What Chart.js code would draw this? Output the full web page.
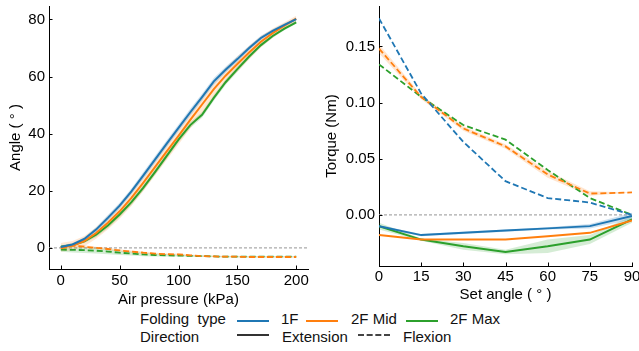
<!DOCTYPE html>
<html>
<head>
<meta charset="utf-8">
<script src="https://cdn.jsdelivr.net/npm/chart.js@4"></script>
<style>
  body { margin: 0; background: #fff; width: 639px; height: 351px; overflow: hidden; position: relative; font-family: "Liberation Sans", Arial, sans-serif; }
  canvas { position: absolute; top: 0; }
  .lg { position: absolute; font-size: 15px; line-height: 17px; color: #111; white-space: pre; }
  .ln { position: absolute; width: 32px; height: 0; border-top: 2px solid; }
</style>
</head>
<body>
<canvas id="left" width="320" height="309" style="left:0"></canvas>
<canvas id="right" width="319" height="304" style="left:320px"></canvas>

<div class="lg" style="left:140px;top:310px">Folding  type</div>
<div class="ln" style="left:237px;top:320px;border-color:#1f77b4"></div>
<div class="lg" style="left:281px;top:310px">1F</div>
<div class="ln" style="left:306px;top:320px;border-color:#ff7f0e"></div>
<div class="lg" style="left:351px;top:310px">2F Mid</div>
<div class="ln" style="left:406px;top:320px;border-color:#2ca02c"></div>
<div class="lg" style="left:450px;top:310px">2F Max</div>
<div class="lg" style="left:140px;top:328px">Direction</div>
<div class="ln" style="left:237px;top:334px;border-color:#333"></div>
<div class="lg" style="left:282px;top:328px">Extension</div>
<div class="ln" style="left:358px;top:334px;border-color:#444;border-top-style:dashed"></div>
<div class="lg" style="left:403px;top:328px">Flexion</div>

<script>
// Left panel: angle vs air pressure
var pressure = [0, 10, 20, 30, 40, 50, 60, 70, 80, 90, 100, 110, 120, 130, 140, 150, 160, 170, 180, 190, 200];
var ext1F    = [0.3, 1.2, 3.1, 6.4, 10.5, 14.8, 19.8, 25.3, 30.9, 36.5, 42.0, 47.5, 52.8, 58.3, 62.4, 66.1, 70.0, 73.5, 76.0, 78.1, 80.1];
var ext2FMid = [0.2, 0.8, 2.4, 5.2, 8.8, 12.8, 17.5, 22.8, 28.3, 33.8, 39.2, 44.8, 50.2, 55.6, 60.3, 64.4, 68.4, 72.2, 75.2, 77.8, 80.3];
var ext2FMax = [0.4, 1.0, 2.3, 4.6, 7.8, 11.7, 16.0, 21.0, 26.5, 32.2, 37.9, 43.0, 46.6, 52.5, 58.0, 62.6, 67.0, 71.0, 74.2, 76.8, 79.0];
var flx2FMid = [-0.2, 0.8, 0.4, 0.0, -0.4, -0.9, -1.3, -1.7, -2.0, -2.2, -2.3, -2.6, -2.9, -3.0, -3.1, -3.1, -3.2, -3.2, -3.2, -3.2, -3.2];
var flx2FMax = [-0.6, -0.7, -0.8, -1.0, -1.3, -1.7, -2.0, -2.3, -2.5, -2.6, -2.7, -2.8, -2.9, -3.0, -3.1, -3.1, -3.1, -3.1, -3.1, -3.1, -3.1];
var sdExt1F    = [0.5, 0.5, 0.6, 0.8, 1.0, 1.0, 1.0, 1.2, 1.2, 1.2, 1.2, 1.2, 1.2, 1.2, 1.0, 1.0, 0.8, 0.8, 0.6, 0.6, 0.6];
var sdExt2FMid = [1.5, 1.6, 1.8, 2.0, 2.4, 2.6, 2.8, 3.0, 3.0, 3.0, 3.0, 3.0, 3.0, 3.0, 2.8, 2.6, 2.4, 2.0, 1.6, 1.2, 1.0];
var sdExt2FMax = [0.4, 0.5, 0.6, 0.8, 0.9, 1.0, 1.0, 1.0, 1.0, 1.0, 1.0, 1.0, 1.0, 1.0, 1.0, 1.0, 0.8, 0.7, 0.6, 0.6, 0.5];
var sdFlx2FMid = [0.5, 0.5, 0.5, 0.4, 0.4, 0.4, 0.4, 0.4, 0.3, 0.3, 0.3, 0.3, 0.3, 0.3, 0.3, 0.3, 0.3, 0.3, 0.3, 0.3, 0.3];
var sdFlx2FMax = [0.8, 0.9, 1.0, 1.0, 0.9, 0.8, 0.7, 0.6, 0.5, 0.4, 0.3, 0.3, 0.3, 0.2, 0.2, 0.2, 0.2, 0.2, 0.2, 0.2, 0.2];
var pressureTicks = [0, 50, 100, 150, 200];
var angleTicks = [0, 20, 40, 60, 80];

// Right panel: torque vs set angle
var setAngle = [0, 15, 30, 45, 60, 75, 90];
var tqFlx1F    = [0.175, 0.108, 0.065, 0.030, 0.015, 0.011, 0.000];
var tqFlx2FMid = [0.148, 0.105, 0.077, 0.061, 0.036, 0.019, 0.020];
var tqFlx2FMax = [0.134, 0.105, 0.080, 0.067, 0.040, 0.015, 0.000];
var tqExt1F    = [-0.010, -0.018, -0.016, -0.014, -0.012, -0.010, -0.001];
var tqExt2FMid = [-0.018, -0.022, -0.022, -0.022, -0.019, -0.016, -0.005];
var tqExt2FMax = [-0.010, -0.022, -0.028, -0.033, -0.028, -0.022, -0.004];
var sdTqFlx2FMid = [0.004, 0.002, 0.002, 0.002, 0.003, 0.002, 0.000];
var sdTqExt1F    = [0.001, 0.001, 0.001, 0.001, 0.001, 0.002, 0.003];
var sdTqExt2FMax = [0.003, 0.001, 0.003, 0.002, 0.006, 0.004, 0.003];
var angleSetTicks = [0, 15, 30, 45, 60, 75, 90];
var torqueTicks = [0, 0.05, 0.10, 0.15];

var BLUE = '#1f77b4', ORANGE = '#ff7f0e', GREEN = '#2ca02c';
var FONT = { family: '"Liberation Sans", Arial, sans-serif', size: 15 };

function pts(xs, ys) {
    return xs.map(function (x, i) { return { x: x, y: ys[i] }; });
}

function line(xs, ys, color, dashed) {
    return {
        data: pts(xs, ys), borderColor: color, borderWidth: dashed ? 1.8 : 2,
        borderDash: dashed ? [6, 3] : [], pointRadius: 0, fill: false, order: 0
    };
}

// pair of datasets: upper filled down to lower
function band(xs, ys, sd, rgba) {
    var up = ys.map(function (v, i) { return v + sd[i]; });
    var lo = ys.map(function (v, i) { return v - sd[i]; });
    return [
        { data: pts(xs, up), borderWidth: 0, pointRadius: 0, fill: '+1', backgroundColor: rgba, order: 1 },
        { data: pts(xs, lo), borderWidth: 0, pointRadius: 0, fill: false, order: 1 }
    ];
}

function zeroLine(x0, x1) {
    return { data: [{ x: x0, y: 0 }, { x: x1, y: 0 }], borderColor: '#aaa', borderWidth: 1.2,
        borderDash: [3, 2], pointRadius: 0, fill: false, order: 2 };
}

// matplotlib style ticks pointing into the plot
var inwardTicks = {
    id: 'inwardTicks',
    afterDraw: function (chart) {
        var ctx = chart.ctx, a = chart.chartArea;
        ctx.save();
        ctx.strokeStyle = '#000';
        ctx.lineWidth = 1;
        ctx.beginPath();
        chart.scales.x.ticks.forEach(function (t) {
            var px = Math.round(chart.scales.x.getPixelForValue(t.value)) + 0.5;
            ctx.moveTo(px, a.bottom); ctx.lineTo(px, a.bottom - 3.5);
        });
        chart.scales.y.ticks.forEach(function (t) {
            var py = Math.round(chart.scales.y.getPixelForValue(t.value)) + 0.5;
            ctx.moveTo(a.left, py); ctx.lineTo(a.left + 3.5, py);
        });
        ctx.stroke();
        ctx.restore();
    }
};

function axes(o) {
    return {
        x: {
            type: 'linear', min: o.xmin, max: o.xmax,
            afterBuildTicks: function (s) { s.ticks = o.xticks.map(function (v) { return { value: v }; }); },
            afterFit: function (s) { s.height = o.xh; s.paddingLeft = 0; s.paddingRight = 0; },
            grid: { display: false, drawTicks: false },
            border: { display: true, color: '#000', width: 1 },
            ticks: { color: '#000', font: FONT, padding: o.xpad, maxRotation: 0, autoSkip: false },
            title: { display: true, text: o.xtitle, color: '#000', font: FONT, padding: 0 }
        },
        y: {
            type: 'linear', min: o.ymin, max: o.ymax,
            afterBuildTicks: function (s) { s.ticks = o.yticks.map(function (v) { return { value: v }; }); },
            afterFit: function (s) { s.width = o.yw; s.paddingTop = 0; s.paddingBottom = 0; },
            grid: { display: false, drawTicks: false },
            border: { display: true, color: '#000', width: 1 },
            ticks: { color: '#000', font: FONT, padding: 4, autoSkip: false, callback: o.yfmt },
            title: { display: true, text: o.ytitle, color: '#000', font: FONT, padding: { top: o.ytpad, bottom: 0 } }
        }
    };
}

var common = {
    responsive: false, animation: false,
    plugins: { legend: { display: false }, tooltip: { enabled: false } }
};

var leftSets = [
    line(pressure, ext1F, BLUE, false),
    line(pressure, ext2FMid, ORANGE, false),
    line(pressure, ext2FMax, GREEN, false),
    line(pressure, flx2FMid, ORANGE, true),
    line(pressure, flx2FMax, GREEN, true)
].concat(
    band(pressure, ext1F, sdExt1F, 'rgba(31,119,180,0.22)'),
    band(pressure, ext2FMid, sdExt2FMid, 'rgba(255,127,14,0.18)'),
    band(pressure, ext2FMax, sdExt2FMax, 'rgba(44,160,44,0.2)'),
    band(pressure, flx2FMid, sdFlx2FMid, 'rgba(255,127,14,0.18)'),
    band(pressure, flx2FMax, sdFlx2FMax, 'rgba(44,160,44,0.2)'),
    [zeroLine(-10, 210)]
);

new Chart(document.getElementById('left').getContext('2d'), {
    type: 'line',
    data: { datasets: leftSets },
    options: Object.assign({}, common, {
        layout: { padding: { top: 6, right: 12, left: 0, bottom: 0 } },
        scales: axes({
            xmin: -10, xmax: 210, xticks: pressureTicks, xh: 40, xpad: 3, xtitle: 'Air pressure (kPa)',
            ymin: -7.4, ymax: 84.7, yticks: angleTicks, yw: 49, ytpad: 7, ytitle: 'Angle ( ° )',
            yfmt: function (v) { return String(v); }
        })
    }),
    plugins: [inwardTicks]
});

var rightSets = [
    line(setAngle, tqExt1F, BLUE, false),
    line(setAngle, tqExt2FMid, ORANGE, false),
    line(setAngle, tqExt2FMax, GREEN, false),
    line(setAngle, tqFlx1F, BLUE, true),
    line(setAngle, tqFlx2FMid, ORANGE, true),
    line(setAngle, tqFlx2FMax, GREEN, true)
].concat(
    band(setAngle, tqExt1F, sdTqExt1F, 'rgba(31,119,180,0.22)'),
    band(setAngle, tqExt2FMax, sdTqExt2FMax, 'rgba(44,160,44,0.2)'),
    band(setAngle, tqFlx2FMid, sdTqFlx2FMid, 'rgba(255,127,14,0.2)'),
    [zeroLine(0, 90)]
);

new Chart(document.getElementById('right').getContext('2d'), {
    type: 'line',
    data: { datasets: rightSets },
    options: Object.assign({}, common, {
        layout: { padding: { top: 6, right: 7, left: 0, bottom: 0 } },
        scales: axes({
            xmin: 0, xmax: 90, xticks: angleSetTicks, xh: 38, xpad: 2, xtitle: 'Set angle ( ° )',
            ymin: -0.0455, ymax: 0.186, yticks: torqueTicks, yw: 59, ytpad: 3, ytitle: 'Torque (Nm)',
            yfmt: function (v) { return v.toFixed(2); }
        })
    }),
    plugins: [inwardTicks]
});
</script>
</body>
</html>
